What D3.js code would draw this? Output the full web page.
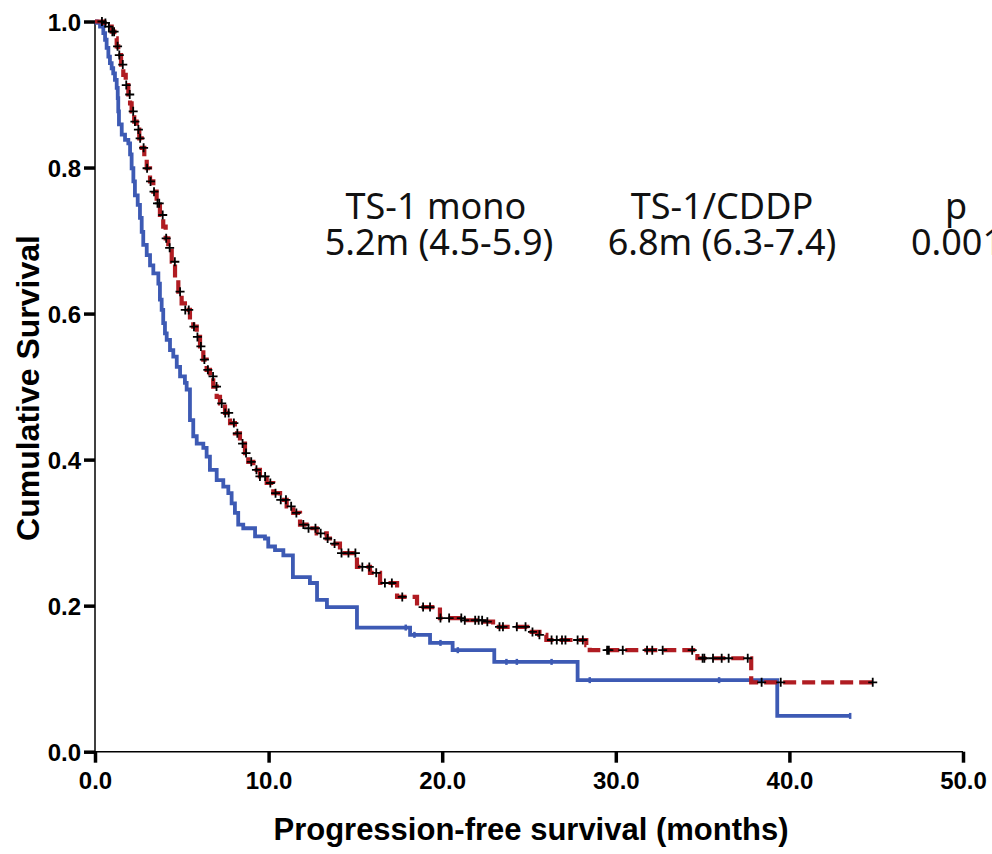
<!DOCTYPE html>
<html>
<head>
<meta charset="utf-8">
<script src="https://cdn.jsdelivr.net/npm/d3@7"></script>
<style>
  body { margin: 0; background: #fff; }
  svg { display: block; }
  .tick text { font-family: "Liberation Sans", Arial, sans-serif; font-weight: bold; }
</style>
</head>
<body>
<svg id="km"></svg>
<script>
// Kaplan-Meier curves (months, cumulative survival)
const monoTime = [0, 0.10, 0.29, 0.48, 0.58, 0.67, 0.77, 0.86, 0.96, 1.05, 1.15, 1.25, 1.31, 1.34, 1.38, 1.54, 1.73, 1.92, 2.02, 2.11, 2.21, 2.30, 2.46, 2.59, 2.69, 2.78, 2.98, 3.17, 3.36, 3.65, 3.74, 3.84, 3.93, 4.03, 4.13, 4.32, 4.51, 4.71, 4.90, 5.18, 5.28, 5.47, 5.66, 5.86, 6.24, 6.43, 6.62, 7.01, 7.39, 7.68, 7.87, 8.06, 8.25, 8.54, 9.22, 9.79, 9.98, 10.37, 10.85, 11.4, 12.38, 12.79, 13.36, 15.09, 18.15, 19.3, 20.6, 23.0, 27.8, 39.3];
const monoSurv = [1, 0.998, 0.993, 0.984, 0.975, 0.964, 0.952, 0.943, 0.936, 0.929, 0.920, 0.909, 0.895, 0.877, 0.859, 0.845, 0.838, 0.833, 0.818, 0.799, 0.781, 0.762, 0.749, 0.731, 0.712, 0.694, 0.680, 0.666, 0.655, 0.641, 0.619, 0.605, 0.587, 0.573, 0.564, 0.550, 0.541, 0.527, 0.514, 0.505, 0.496, 0.454, 0.432, 0.422, 0.416, 0.404, 0.386, 0.372, 0.363, 0.354, 0.340, 0.327, 0.311, 0.306, 0.295, 0.292, 0.281, 0.276, 0.269, 0.239, 0.231, 0.208, 0.198, 0.170, 0.160, 0.149, 0.139, 0.123, 0.098, 0.049];
const monoEnd = 43.5;
const monoCensor = [17.9, 18.4, 19.9, 20.9, 23.7, 24.3, 26.3, 28.5, 35.95, 43.5];

const cddpTime = [0, 0.48, 0.77, 0.96, 1.11, 1.25, 1.34, 1.50, 1.63, 1.77, 1.92, 2.02, 2.11, 2.26, 2.40, 2.55, 2.69, 2.84, 2.98, 3.17, 3.36, 3.55, 3.74, 3.93, 4.07, 4.22, 4.42, 4.61, 4.80, 4.99, 5.18, 5.47, 5.66, 5.86, 6.05, 6.24, 6.43, 6.62, 6.81, 7.01, 7.20, 7.49, 7.78, 8.06, 8.35, 8.64, 8.83, 9.12, 9.50, 9.89, 10.27, 10.66, 11.04, 11.42, 11.81, 12.19, 12.77, 13.35, 13.73, 14.11, 15.09, 15.84, 16.42, 17.40, 18.55, 19.87, 21.2, 22.35, 22.93, 24.9, 25.6, 26.0, 28.3, 28.5, 34.7, 37.8];
const cddpSurv = [1, 0.998, 0.993, 0.986, 0.977, 0.966, 0.954, 0.941, 0.927, 0.913, 0.900, 0.888, 0.877, 0.863, 0.852, 0.840, 0.827, 0.813, 0.799, 0.781, 0.767, 0.751, 0.735, 0.719, 0.703, 0.690, 0.671, 0.648, 0.630, 0.614, 0.605, 0.591, 0.582, 0.568, 0.555, 0.537, 0.523, 0.514, 0.500, 0.486, 0.477, 0.464, 0.450, 0.436, 0.422, 0.409, 0.397, 0.386, 0.377, 0.368, 0.354, 0.345, 0.336, 0.327, 0.311, 0.306, 0.299, 0.292, 0.285, 0.272, 0.253, 0.245, 0.231, 0.212, 0.198, 0.183, 0.180, 0.178, 0.171, 0.164, 0.160, 0.153, 0.146, 0.139, 0.128, 0.095];
const cddpEnd = 44.8;
const cddpCensor = [0.4, 0.6, 0.8, 1.0, 1.1, 1.3, 1.4, 1.6, 1.8, 2.0, 2.2, 2.3, 2.5, 2.6, 2.8, 3.0, 3.2, 3.4, 3.6, 3.7, 3.9, 4.1, 4.3, 4.6, 4.9, 5.2, 5.4, 5.7, 5.9, 6.1, 6.3, 6.5, 6.8, 7.0, 7.3, 7.5, 7.7, 8.0, 8.2, 8.5, 8.7, 9.0, 9.3, 9.5, 9.8, 10.1, 10.4, 10.7, 11.0, 11.3, 11.6, 12.0, 12.3, 12.7, 13.0, 13.4, 13.8, 14.2, 14.6, 15.0, 15.4, 15.8, 16.2, 16.7, 17.1, 17.7, 18.9, 19.3, 19.9, 20.4, 21.1, 21.3, 21.9, 22.1, 22.3, 22.6, 23.3, 23.5, 24.3, 24.8, 25.2, 25.6, 26.3, 26.6, 26.9, 27.1, 27.8, 28.1, 29.5, 29.6, 30.4, 31.8, 32.1, 32.7, 34.4, 35.0, 35.1, 35.6, 36.1, 36.5, 37.6, 38.4, 39.5, 44.8];

const xTicks = [0, 10, 20, 30, 40, 50];
const yTicks = [0, 0.2, 0.4, 0.6, 0.8, 1.0];

const headers = ["TS-1 mono", "TS-1/CDDP", "p"];
const medians = ["5.2m (4.5-5.9)", "6.8m (6.3-7.4)", "0.001"];

const width = 992, height = 854;
const svg = d3.select("#km").attr("width", width).attr("height", height);

const x = d3.scaleLinear().domain([0, 50]).range([95, 963]);
const y = d3.scaleLinear().domain([0, 1]).range([751.7, 21.5]);

// step data: append end-of-follow-up point
function steps(times, surv, end) {
    const pts = times.map((t, i) => [t, surv[i]]);
    pts.push([end, surv[surv.length - 1]]);
    return pts;
}
function survAt(times, surv, t) {
    let s = 1;
    times.forEach((tt, i) => { if (tt <= t) s = surv[i]; });
    return s;
}

const line = d3.line()
    .x(d => x(d[0]))
    .y(d => y(d[1]))
    .curve(d3.curveStepAfter);

// axes
const xAxis = svg.append("g")
    .attr("transform", `translate(0,${y(0)})`)
    .call(d3.axisBottom(x).tickValues(xTicks).tickFormat(d3.format(".1f")).tickSize(11).tickPadding(9));
const yAxis = svg.append("g")
    .attr("transform", `translate(${x(0)},0)`)
    .call(d3.axisLeft(y).tickValues(yTicks).tickFormat(d3.format(".1f")).tickSize(11).tickPadding(3));

[xAxis, yAxis].forEach(a => {
    a.select(".domain").attr("stroke", "#000").attr("stroke-width", 1.5);
    a.selectAll(".tick line").attr("stroke", "#000").attr("stroke-width", 3.5);
    a.selectAll(".tick text").attr("fill", "#000").style("font-size", "24px");
});
xAxis.select(".domain").attr("d", `M${x(0)},0H${x(50)}`);
yAxis.select(".domain").attr("d", `M0,${y(0)}V${y(1)}`);
yAxis.selectAll(".tick text").attr("dy", "0.36em");

// curves
svg.append("path")
    .datum(steps(monoTime, monoSurv, monoEnd))
    .attr("d", line)
    .attr("fill", "none")
    .attr("stroke", "#3d5ab4")
    .attr("stroke-width", 3.8);

svg.append("path")
    .datum(steps(cddpTime, cddpSurv, cddpEnd))
    .attr("d", line)
    .attr("fill", "none")
    .attr("stroke", "#b01c22")
    .attr("stroke-width", 4.2)
    .attr("stroke-dasharray", "13,6");

// censor marks
svg.append("g")
    .selectAll("line")
    .data(monoCensor)
    .join("line")
    .attr("x1", d => x(d)).attr("x2", d => x(d))
    .attr("y1", d => y(survAt(monoTime, monoSurv, d)) - 3)
    .attr("y2", d => y(survAt(monoTime, monoSurv, d)) + 3)
    .attr("stroke", "#3d5ab4")
    .attr("stroke-width", 2.5);

svg.append("g")
    .selectAll("path")
    .data(cddpCensor)
    .join("path")
    .attr("d", d => {
        const cx = x(d), cy = y(survAt(cddpTime, cddpSurv, d));
        return `M${cx - 4.5},${cy}H${cx + 4.5}M${cx},${cy - 4.5}V${cy + 4.5}`;
    })
    .attr("stroke", "#000")
    .attr("stroke-width", 1.8)
    .attr("fill", "none");

// annotation text
const colX = [436, 722, 956];
svg.append("g")
    .selectAll("text")
    .data(headers)
    .join("text")
    .attr("x", (d, i) => colX[i])
    .attr("y", 219)
    .attr("text-anchor", "middle")
    .style("font-family", "'Noto Sans', sans-serif")
    .style("font-size", "36px")
    .attr("fill", "#111")
    .text(d => d);

svg.append("g")
    .selectAll("text")
    .data(medians)
    .join("text")
    .attr("x", (d, i) => i < 2 ? colX[i] + (i === 0 ? 3 : 0) : 911)
    .attr("y", 255)
    .attr("text-anchor", (d, i) => i < 2 ? "middle" : "start")
    .style("font-family", "'Noto Sans', sans-serif")
    .style("font-size", "36px")
    .attr("fill", "#111")
    .text(d => d);

// axis titles
svg.append("text")
    .attr("x", 531)
    .attr("y", 840)
    .attr("text-anchor", "middle")
    .style("font-family", "'Liberation Sans', Arial, sans-serif")
    .style("font-weight", "bold")
    .style("font-size", "31px")
    .text("Progression-free survival (months)");

svg.append("text")
    .attr("transform", "translate(39,388) rotate(-90)")
    .attr("text-anchor", "middle")
    .style("font-family", "'Liberation Sans', Arial, sans-serif")
    .style("font-weight", "bold")
    .style("font-size", "32px")
    .text("Cumulative Survival");
</script>
</body>
</html>
